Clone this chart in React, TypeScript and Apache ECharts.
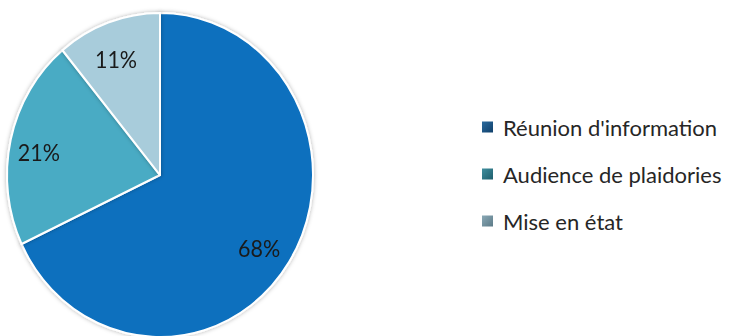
import React, { useEffect, useRef } from "react";
import * as echarts from "echarts";

const categories = ["Réunion d'information", "Audience de plaidories", "Mise en état"];
const values = [68, 21, 11];
const sliceColors = ["#0A6FBE", "#4AABC4", "#A8CCDB"];
const legendColors = [
  ["#2A6A9E", "#10406A"],
  ["#3F8E9E", "#1E5E6C"],
  ["#8AA9B6", "#5C7A87"],
];

const STRETCH = 1.059;

export default function App() {
  const pieRef = useRef<HTMLDivElement>(null);
  const legRef = useRef<HTMLDivElement>(null);
  useEffect(() => {
    if (!pieRef.current || !legRef.current) return;
    const pie = echarts.init(pieRef.current, null, { renderer: "svg" });
    const leg = echarts.init(legRef.current, null, { renderer: "svg" });
    const data = categories.map((name, i) => ({
      name,
      value: values[i],
      itemStyle: { color: sliceColors[i] },
    }));
    pie.setOption({
      animation: false,
      series: [
        {
          type: "pie",
          center: [160, 165.3],
          radius: [0, 153],
          startAngle: 90,
          clockwise: true,
          silent: true,
          label: { show: false },
          labelLine: { show: false },
          itemStyle: {
            borderColor: "#ffffff",
            borderWidth: 2,
            shadowBlur: 4,
            shadowColor: "rgba(0,0,0,0.3)",
          },
          data,
        },
        {
          type: "pie",
          center: [157, 170],
          radius: [97, 139],
          startAngle: 90,
          clockwise: true,
          silent: true,
          itemStyle: { color: "rgba(0,0,0,0)" },
          label: {
            show: true,
            position: "inside",
            formatter: "{c}%",
            fontSize: 21.5,
            color: "#1a1a1a",
            fontFamily: "Lato",
          },
          labelLine: { show: false },
          data: categories.map((name, i) => ({ name, value: values[i], itemStyle: { color: "rgba(0,0,0,0)" } })),
        },
      ],
    });
    leg.setOption({
      animation: false,
      legend: {
        orient: "vertical",
        left: 477,
        top: 111,
        icon: "rect",
        itemWidth: 11,
        itemHeight: 11,
        itemGap: 25,
        textStyle: { fontSize: 22, color: "#262626", fontFamily: "Lato", padding: [0, 0, 0, 5] },
        data: categories.map((name, i) => ({
          name,
          itemStyle: {
            color: new echarts.graphic.LinearGradient(0, 0, 1, 1, [
              { offset: 0, color: legendColors[i][0] },
              { offset: 1, color: legendColors[i][1] },
            ]),
          },
        })),
      },
      series: [
        {
          type: "pie",
          radius: 0,
          silent: true,
          label: { show: false },
          data: categories.map((name, i) => ({ name, value: values[i], itemStyle: { color: sliceColors[i] } })),
        },
      ],
    });
    return () => {
      pie.dispose();
      leg.dispose();
    };
  }, []);
  return (
    <div style={{ position: "absolute", left: 0, top: 0, width: 734, height: 336, overflow: "hidden", background: "#fff" }}>
      <div
        ref={pieRef}
        style={{
          position: "absolute",
          left: 0,
          top: 0,
          width: 734,
          height: 336,
          transform: `scaleY(${STRETCH})`,
          transformOrigin: "0 0",
        }}
      />
      <div ref={legRef} style={{ position: "absolute", left: 0, top: 0, width: 734, height: 336 }} />
    </div>
  );
}
